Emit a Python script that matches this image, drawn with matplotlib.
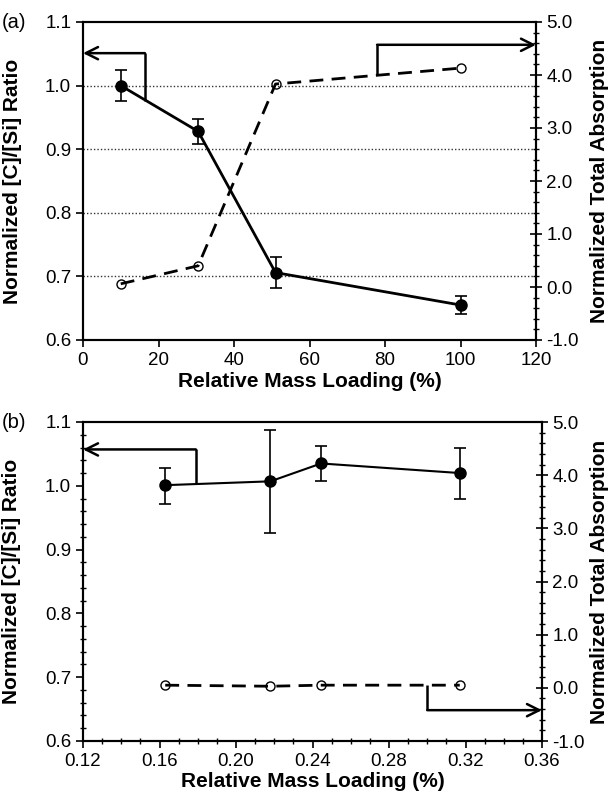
import numpy as np
import matplotlib.pyplot as plt
from matplotlib.ticker import MultipleLocator, FormatStrFormatter

plt.rcParams['font.family'] = ['Liberation Sans', 'DejaVu Sans']
plt.rcParams['axes.unicode_minus'] = False

# panel (a) data
load_a = [10, 30.5, 51, 100]
ratio_a = [1.000, 0.928, 0.706, 0.655]
ratio_err_a = [0.024, 0.020, 0.024, 0.014]
absorb_a = [0.06, 0.40, 3.83, 4.13]

# panel (b) data
load_b = [0.163, 0.218, 0.2445, 0.317]
ratio_b = [1.001, 1.007, 1.035, 1.020]
ratio_lo_b = [0.971, 0.926, 1.008, 0.979]
ratio_hi_b = [1.028, 1.088, 1.062, 1.060]
absorb_b = [0.05, 0.03, 0.05, 0.05]

# arrow paths (corner x, start y, end y, arrow end x)
arrow_a_left = (16.4, 0.976, 1.051, 0)
arrow_a_right = (77.9, 4.0, 4.57, 120)
arrow_b_left = (0.179, 1.003, 1.057, 0.12)
arrow_b_right = (0.300, 0.05, -0.42, 0.36)

fs = 13.5   # tick labels
lfs = 15    # axis labels
fig = plt.figure(figsize=(6.14, 7.97), dpi=100)


def bracket_arrow(ax, spec):
    xc, y0, y1, xe = spec
    ax.plot([xc, xc], [y0, y1], color='black', lw=1.8, solid_capstyle='butt')
    ax.annotate('', xy=(xe, y1), xytext=(xc, y1),
                arrowprops=dict(arrowstyle='->', lw=1.8, color='black',
                                mutation_scale=22, shrinkA=0, shrinkB=0))


def style_axes(ax, ax2, xlabel, left_label):
    ax.set_ylim(0.6, 1.1)
    ax.yaxis.set_major_locator(MultipleLocator(0.1))
    ax.yaxis.set_major_formatter(FormatStrFormatter('%.1f'))
    ax2.set_ylim(-1.0, 5.0)
    ax2.yaxis.set_major_locator(MultipleLocator(1.0))
    ax2.yaxis.set_minor_locator(MultipleLocator(0.2))
    ax2.yaxis.set_major_formatter(FormatStrFormatter('%.1f'))
    ax.set_xlabel(xlabel, fontsize=lfs, fontweight='bold')
    ax.set_ylabel(left_label, fontsize=lfs, fontweight='bold')
    ax2.set_ylabel('Normalized Total Absorption', fontsize=lfs, fontweight='bold')
    ax.tick_params(labelsize=fs, width=1.2)
    ax2.tick_params(labelsize=fs, width=1.2)
    ax2.tick_params(axis='y', which='major', direction='inout', length=8)
    ax2.tick_params(axis='y', which='minor', direction='inout', length=5, width=1)
    for sp in ax.spines.values():
        sp.set_linewidth(1.5)
    for sp in ax2.spines.values():
        sp.set_linewidth(1.5)


# ---- panel (a)
ax = fig.add_axes([83 / 614, 1 - 340 / 797, 453 / 614, 318 / 797])
ax2 = ax.twinx()
ax.set_xlim(0, 120)
ax.xaxis.set_major_locator(MultipleLocator(20))
for g in [0.7, 0.8, 0.9, 1.0]:
    ax.axhline(g, color='#333333', lw=1.0, ls=(0, (1, 1.5)), zorder=0)
ax.errorbar(load_a, ratio_a, yerr=ratio_err_a, color='black', lw=2, marker='o',
            ms=8, capsize=4, elinewidth=1.2, capthick=1.2, zorder=3)
ax2.plot(load_a, absorb_a, color='black', lw=2, ls=(0, (5, 3)), marker='o', ms=6.5,
         mfc='none', mec='black', mew=1)
style_axes(ax, ax2, 'Relative Mass Loading (%)', 'Normalized [C]/[Si] Ratio')
ax.tick_params(axis='both', which='major', direction='out', length=5)
bracket_arrow(ax, arrow_a_left)
bracket_arrow(ax2, arrow_a_right)
ax.yaxis.set_label_coords(-0.135, 0.5)
ax2.yaxis.set_label_coords(1.119, 0.5)
ax.xaxis.set_label_coords(0.5, -0.1)
fig.text(0.003, 1 - 22 / 797, '(a)', fontsize=fs + 1, va='center', ha='left')

# ---- panel (b)
bx = fig.add_axes([83 / 614, 1 - 741 / 797, 459 / 614, 319 / 797])
bx2 = bx.twinx()
bx.set_xlim(0.12, 0.36)
bx.xaxis.set_major_locator(MultipleLocator(0.04))
bx.xaxis.set_minor_locator(MultipleLocator(0.01))
bx.xaxis.set_major_formatter(FormatStrFormatter('%.2f'))
bx.yaxis.set_minor_locator(MultipleLocator(0.02))
yerr_b = [np.array(ratio_b) - np.array(ratio_lo_b), np.array(ratio_hi_b) - np.array(ratio_b)]
bx.errorbar(load_b, ratio_b, yerr=yerr_b, color='black', lw=1.5, marker='o',
            ms=8, capsize=4, elinewidth=1.2, capthick=1.2, zorder=3)
bx2.plot(load_b, absorb_b, color='black', lw=2, ls=(0, (5, 3)), marker='o', ms=6.5,
         mfc='none', mec='black', mew=1)
style_axes(bx, bx2, 'Relative Mass Loading (%)', 'Normalized [C]/[Si] Ratio')
bx.tick_params(axis='both', which='major', direction='out', length=5)
bx.tick_params(axis='both', which='minor', direction='inout', length=5, width=1)
bracket_arrow(bx, arrow_b_left)
bracket_arrow(bx2, arrow_b_right)
bx.yaxis.set_label_coords(-0.134, 0.5)
bx2.yaxis.set_label_coords(1.105, 0.5)
bx.xaxis.set_label_coords(0.5, -0.097)
fig.text(0.003, 1 - 422 / 797, '(b)', fontsize=fs + 1, va='center', ha='left')

fig.savefig('out.png', dpi=100)
